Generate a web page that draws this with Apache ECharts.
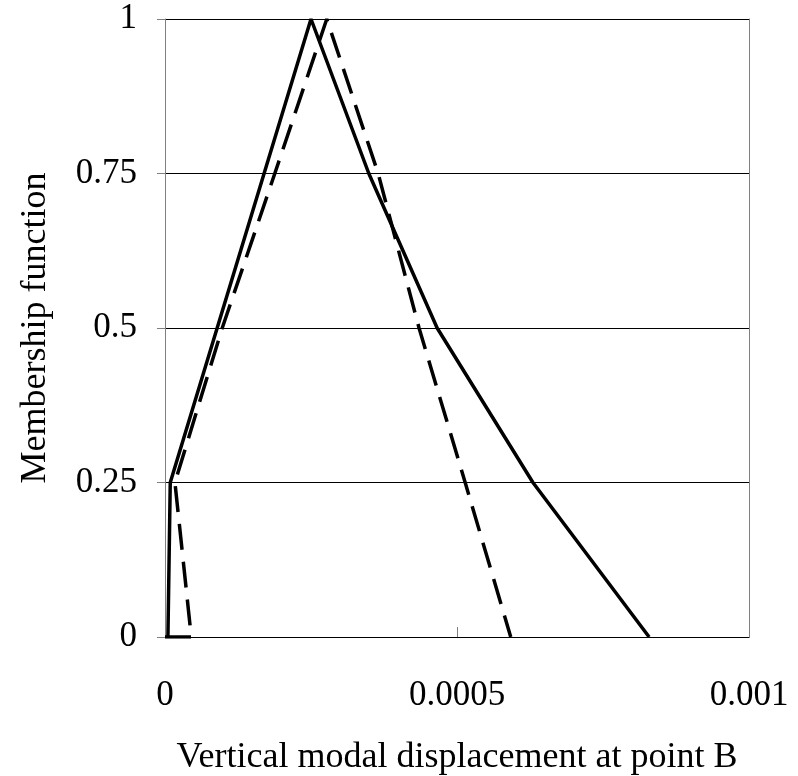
<!DOCTYPE html>
<html>
<head>
<meta charset="utf-8">
<script src="https://cdn.jsdelivr.net/npm/echarts@6/dist/echarts.min.js"></script>
<style>
  html, body { margin: 0; padding: 0; background: #fff; }
  #chart { width: 798px; height: 776px; }
</style>
</head>
<body>
<div id="chart"></div>
<script>
// solid curve
var solidX = [0.000005, 0.000009, 0.00025, 0.000349, 0.000466, 0.00063, 0.000829];
var solidY = [0, 0.25, 1, 0.75, 0.5, 0.25, 0];
// dashed curve
var dashX = [0, 0.000045, 0.000017, 0.000098, 0.000188, 0.000277, 0.000365, 0.000435, 0.000514, 0.000592];
var dashY = [0, 0, 0.25, 0.5, 0.75, 1, 0.75, 0.5, 0.25, 0];
var xTicks = [0, 0.0005, 0.001];
var yTicks = [0, 0.25, 0.5, 0.75, 1];

function pairs(xs, ys) {
    return xs.map(function (x, i) { return [x, ys[i]]; });
}

var font = 'Liberation Serif';
var chart = echarts.init(document.getElementById('chart'));
chart.setOption({
    backgroundColor: '#fff',
    animation: false,
    grid: { left: 165, right: 49, top: 19, bottom: 139, containLabel: false, outerBoundsMode: 'none' },
    xAxis: {
        type: 'value',
        min: xTicks[0],
        max: xTicks[xTicks.length - 1],
        interval: 0.0005,
        name: 'Vertical modal displacement at point B',
        nameLocation: 'middle',
        nameGap: 103,
        nameTextStyle: { fontFamily: font, fontSize: 36, color: '#000' },
        axisLine: { show: true, lineStyle: { color: '#000', width: 1 } },
        axisTick: { show: true, inside: true, length: 10, lineStyle: { color: '#808080' } },
        axisLabel: {
            fontFamily: font, fontSize: 35, color: '#000', margin: 41,
            formatter: function (v) { return String(v); }
        },
        splitLine: { show: false }
    },
    yAxis: [{
        type: 'value',
        min: yTicks[0],
        max: yTicks[yTicks.length - 1],
        interval: 0.25,
        name: 'Membership function',
        nameLocation: 'middle',
        nameGap: 111,
        nameTextStyle: { fontFamily: font, fontSize: 36, color: '#000' },
        axisLine: { show: true, lineStyle: { color: '#808080', width: 1 } },
        axisTick: { show: true, length: 8, lineStyle: { color: '#808080' } },
        axisLabel: {
            fontFamily: font, fontSize: 35, color: '#000', margin: 28,
            formatter: function (v) { return String(v); }
        },
        splitLine: { show: true, lineStyle: { color: '#000', width: 1 } }
    }, {
        type: 'value',
        position: 'right',
        min: 0,
        max: 1,
        axisLine: { show: true, lineStyle: { color: '#808080', width: 1 } },
        axisTick: { show: false },
        axisLabel: { show: false },
        splitLine: { show: false }
    }],
    series: [{
        type: 'line',
        data: pairs(solidX, solidY),
        showSymbol: false,
        lineStyle: { color: '#000', width: 3.5, type: 'solid' }
    }, {
        type: 'line',
        data: pairs(dashX, dashY),
        showSymbol: false,
        lineStyle: { color: '#000', width: 3.5, type: [26, 12] }
    }]
});
</script>
</body>
</html>
